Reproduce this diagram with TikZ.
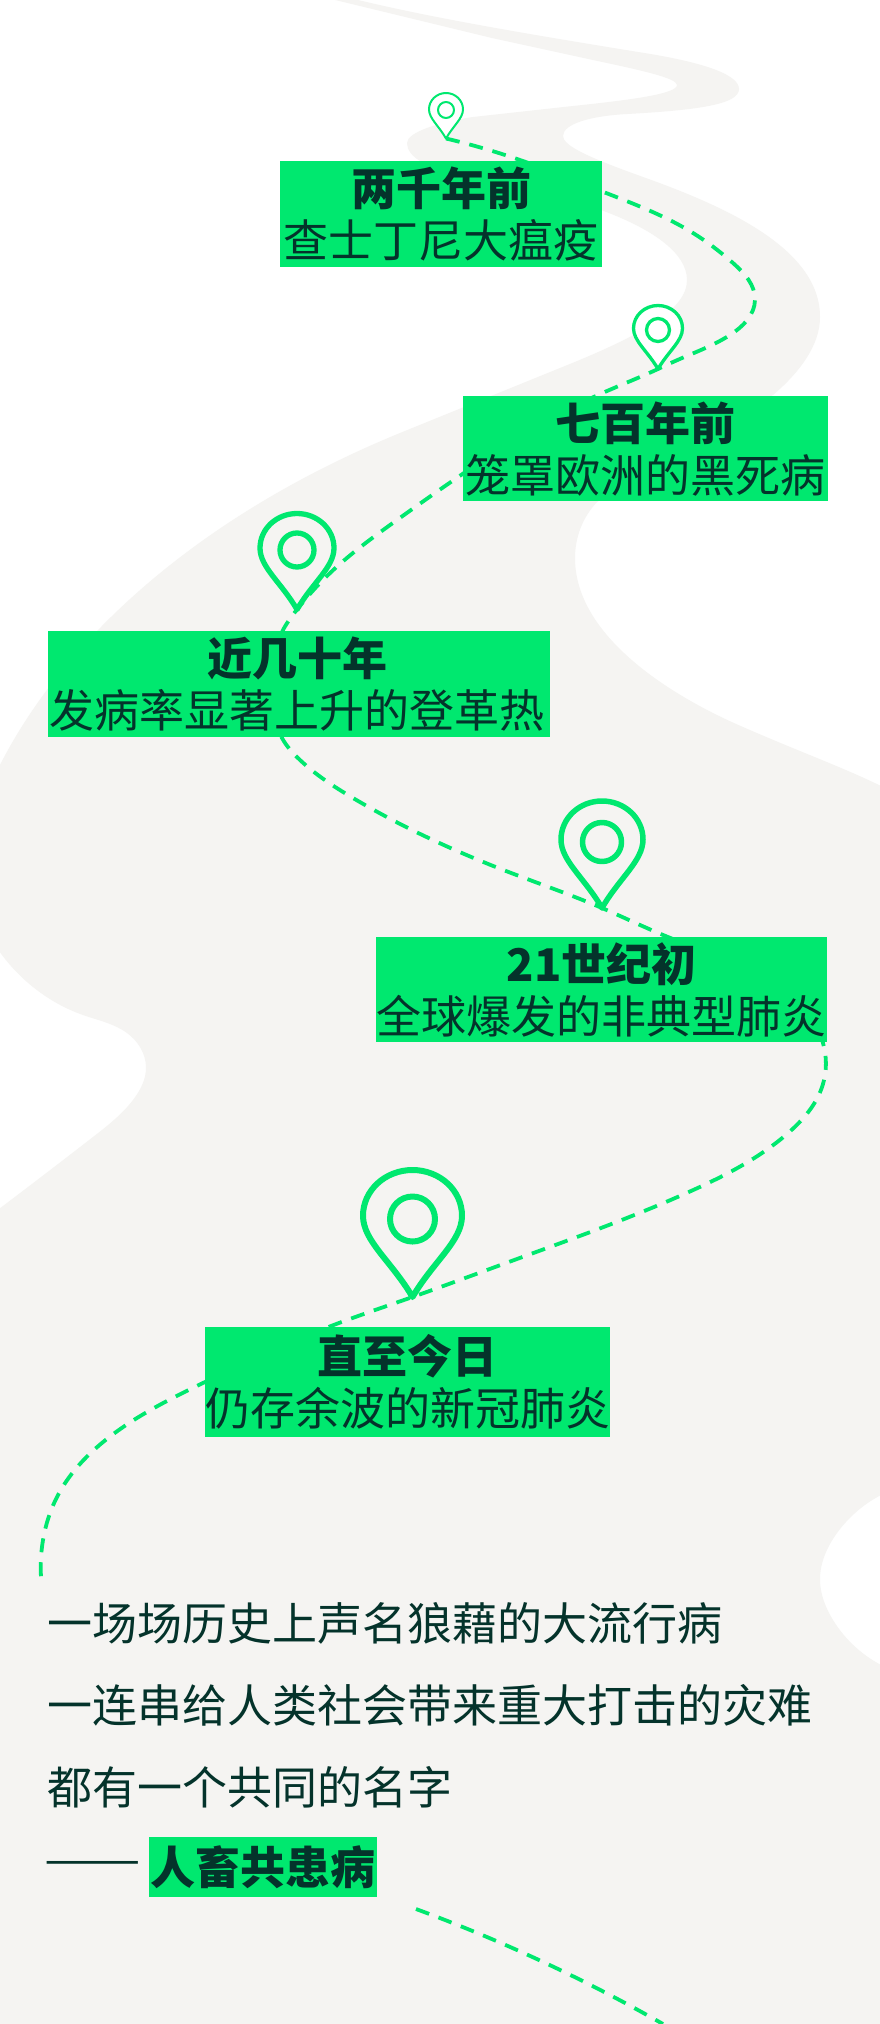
\documentclass[tikz,border=0pt]{standalone}
\usepackage{fontspec}
\usetikzlibrary{hobby}
\setmainfont{Noto Sans CJK SC}
\definecolor{roadgray}{HTML}{F5F4F2}
\definecolor{mint}{HTML}{00E86F}
\definecolor{inkgreen}{HTML}{04332B}
\tikzset{
  labelbox/.style={fill=mint,text=inkgreen,inner sep=0pt,align=center,anchor=north west,font=\fontsize{45}{52}\selectfont},
  bodyline/.style={text=inkgreen,inner sep=0pt,anchor=west,font=\fontsize{45}{52}\selectfont},
  route/.style={draw=mint,line width=3.8pt,dash pattern=on 14pt off 10pt,use Hobby shortcut},
  pinline/.style={draw=mint,line join=round},
}
% name, cx, top, w, h, ring centre y, ring diameter, line width, fill
\newcommand{\mappin}[9]{%
  \begin{scope}[shift={(#2,#3)},xscale=#4/2,yscale=#5]
    \draw[pinline,line width=#8pt,fill=#9] (0,1) .. controls (-.42,.72) and (-1,.56) .. (-1,.36)
      .. controls (-1,.16) and (-.55,0) .. (0,0)
      .. controls (.55,0) and (1,.16) .. (1,.36)
      .. controls (1,.56) and (.42,.72) .. (0,1) -- cycle;
    \coordinate (#1tip) at (0,1);
  \end{scope}
  \node[circle,pinline,line width=#8pt,inner sep=0pt,minimum size=#7pt] (#1ring) at (#2,#6) {};
}
\begin{document}
\begin{tikzpicture}[x=1pt,y=-1pt]
\useasboundingbox (0,0) rectangle (880,2024);
\fill[white] (0,0) rectangle (880,2024);
\begin{scope}
\clip (0,0) rectangle (880,2024);
\fill[roadgray,use Hobby shortcut] (327,-2) -- (350,-2) .. controls (430,18) and (540,36) .. (638,52) .. controls (690,60) and (739,72) .. (739,89) .. controls (739,104) and (700,110) .. (627,114) .. controls (590,116) and (563,124) .. (563,136) .. controls (563,146) and (590,158) .. (643,177) .. controls (730,208) and (820,250) .. (820,317) .. controls (820,345) and (800,372) .. (773,395) -- (680,450) -- (597,502) .. controls (582,518) and (575,538) .. (575,558) .. controls (575,640) and (680,700) .. (743,727) .. controls (800,752) and (845,768) .. (885,788)
 -- (885,1493) .. (837,1533) .. (820,1580) .. (833,1620) .. (885,1667)
 -- (885,2030) -- (-5,2030) -- (-5,1212) .. (93,1137) .. (133,1100) .. (146,1067) .. (127,1033) .. (83,1015) .. (33,987) .. (-5,945)
 -- (-5,775) -- (-5,775) .. controls (60,640) and (200,515) .. (400,433) -- (560,368) .. controls (640,336) and (687,310) .. (687,280) .. controls (687,252) and (650,228) .. (601,210) -- (500,178) -- (420,161) .. controls (412,156) and (407,150) .. (407,143) .. controls (407,132) and (440,122) .. (473,117) -- (573,106) .. controls (630,100) and (677,94) .. (677,85) .. controls (677,78) and (640,70) .. (593,60) -- (492,38) -- (327,-2) -- cycle;
\end{scope}

\mappin{pa}{446}{93}{34}{45.5}{110}{16}{2}{white}
\mappin{pb}{658}{305.5}{49}{63.5}{330}{23}{3.3}{white}
\mappin{pc}{297}{513.5}{74}{96}{550}{34}{5.3}{none}
\mappin{pd}{602}{801}{82}{107}{842}{39}{5.5}{none}
\mappin{pe}{412.5}{1170}{99}{127}{1219}{45}{6}{none}

\coordinate (routeendone) at (41,1577);
\coordinate (routestarttwo) at (416,1909);
\coordinate (routeendtwo) at (663,2024);

\draw[route] (patip) .. (520,160) .. (601,191) .. (693,233) .. (733,263) .. (755,300) .. (730,335) .. (673,362) .. (pbtip) .. (598,395) .. (464,473) .. (397,520) .. (328,575) .. (pctip) .. (282,632) .. (272,685) .. (282,738) .. (300,760) .. (353,798) .. (506,871) .. (pdtip) .. (668,937) .. (790,995) .. (823,1043) .. (823,1084) .. (787,1134) .. (691,1191) .. (506,1263) .. (petip) .. (331,1326) .. (205,1382) .. (112,1435) .. (58,1495) .. (43,1540) .. (routeendone);
\draw[route] (routestarttwo) .. (539,1960) .. (routeendtwo);

\node[labelbox,minimum width=322pt,minimum height=106pt] (boxa) at (280,161) {\textbf{两千年前}\\查士丁尼大瘟疫};
\node[labelbox,minimum width=365pt,minimum height=105pt] (boxb) at (463,396) {\textbf{七百年前}\\笼罩欧洲的黑死病};
\node[labelbox,minimum width=502pt,minimum height=106pt] (boxc) at (48,631) {\textbf{近几十年}\hspace*{3pt}\\发病率显著上升的登革热\hspace*{5pt}};
\node[labelbox,minimum width=451pt,minimum height=105pt] (boxd) at (376,937) {\textbf{21世纪初}\\全球爆发的非典型肺炎};
\node[labelbox,minimum width=405pt,minimum height=110pt] (boxe) at (205,1327) {\textbf{直至今日}\\仍存余波的新冠肺炎};

\node[bodyline] (linea) at (47,1623) {一场场历史上声名狼藉的大流行病};
\node[bodyline] (lineb) at (47,1705) {一连串给人类社会带来重大打击的灾难};
\node[bodyline] (linec) at (47,1787) {都有一个共同的名字};
\node[bodyline] (lined) at (44,1868) {\scalebox{1.28}[1]{——}};
\node[labelbox,minimum width=228pt,minimum height=60pt] (hl) at (149,1837) {\textbf{人畜共患病}};
\end{tikzpicture}
\end{document}
